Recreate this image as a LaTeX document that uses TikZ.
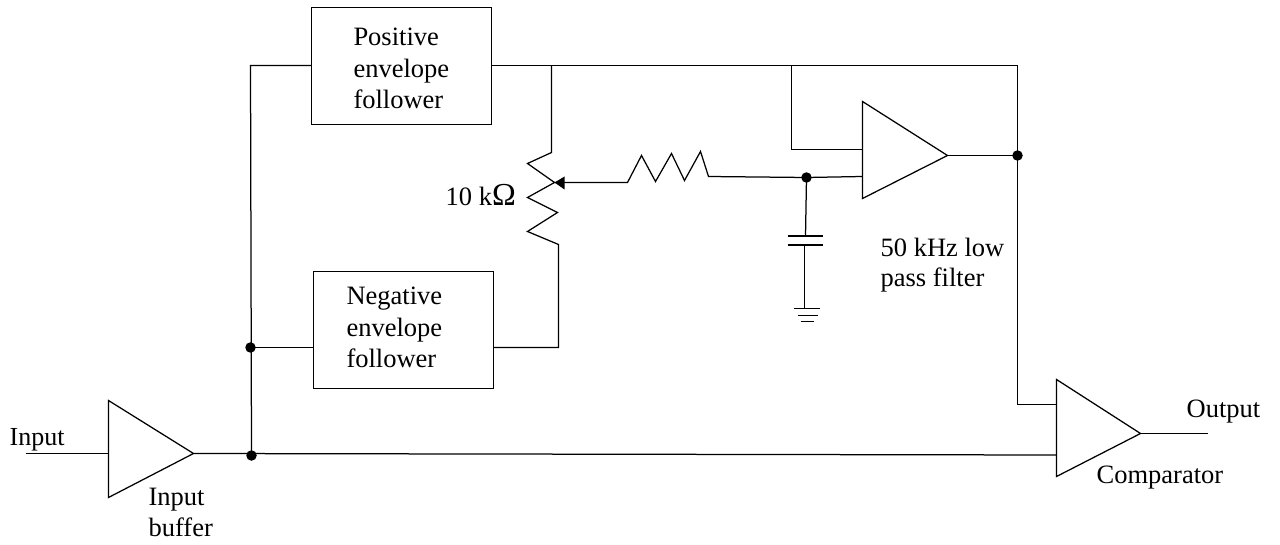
\documentclass[tikz,border=0pt]{standalone}
\usepackage{fontspec}
\setmainfont{Liberation Serif}
\begin{document}
\begin{tikzpicture}[x=1pt,y=-1pt,line width=1.25pt,line join=miter,
  blockbox/.style={draw,minimum width=180pt,minimum height=117pt,inner ysep=0pt,align=left,font=\fontsize{26.5}{30.5}\selectfont},
  lbl/.style={inner sep=0pt,align=left,anchor=base west,font=\fontsize{26.5}{30.5}\selectfont},
  junction/.style={circle,fill=black,inner sep=0pt,minimum size=10.5pt}]
\useasboundingbox (0,0) rectangle (1280,545);
\begin{scope}[shift={(0.5,0.5)}]
\node[blockbox,text width=96pt,inner xsep=42pt,text height=17pt,text depth=57pt] (pos) at (401,65.5) {Positive\\[1.5pt]envelope\\[0.5pt]follower};
\node[blockbox,text width=114pt,inner xsep=33pt,text height=17pt,text depth=68pt] (neg) at (403,329.5) {Negative\\[1.5pt]envelope\\[0.5pt]follower};
% amplifiers
\coordinate (ibA) at (108,400); \coordinate (ibB) at (193,453); \coordinate (ibC) at (108,497);
\coordinate (opA) at (862,101); \coordinate (opB) at (947,155); \coordinate (opC) at (862,198);
\coordinate (cmA) at (1056,379); \coordinate (cmB) at (1140,433); \coordinate (cmC) at (1056,476);
\draw (ibA) -- (ibB) -- (ibC) -- cycle;
\draw (opA) -- (opB) -- (opC) -- cycle;
\draw (cmA) -- (cmB) -- (cmC) -- cycle;
% junctions
\node[junction] (j1) at (250,347) {};
\node[junction] (j2) at (251,455) {};
\node[junction] (j3) at (1017,155) {};
\node[junction] (j4) at (806,177) {};
% end points
\coordinate (in) at (25,453);
\coordinate (ibin) at (108,453);
\coordinate (out) at (1207,433);
\coordinate (tr) at (1017,65);
\coordinate (tl) at (250,65);
\coordinate (wiper) at (554,182);
% wires
\draw (pos.west |- tl) -- (tl) -- (j2.center);
\draw (j1.center) -- (neg.west |- j1);
\draw (in) -- (ibin);
\draw (ibB) -- (1056,454.5);
\draw (cmB) -- (out);
\draw (pos.east |- tr) -- (tr) -- (1017,404) -- (1056,404);
\draw (791,65) -- (791,149) -- (862,149);
\draw (opB) -- (j3.center);
% potentiometer
\draw (551,65) -- (551,152) -- (527,163) -- (554,182) -- (527,197) -- (557,212) -- (527,231) -- (558,244) -- (558,347) -- (neg.east |- j1);
\draw (wiper) -- (627,182) -- (641,155) -- (655,181) -- (671,153) -- (684,180) -- (700,151) -- (708,176) -- (j4.center) -- (862,176);
\fill (wiper) -- (564,176) -- (564,189) -- cycle;
% capacitor and ground
\draw (j4.center) -- (805,236);
\draw[line width=2pt] (787,236) -- (822,236);
\draw[line width=2pt] (787,245) -- (822,245);
\draw (804,245) -- (804,308);
\draw (793,308) -- (819,308);
\draw (797,315) -- (817,315);
\draw (800,321) -- (813,321);
\end{scope}
% labels
\node[lbl,font=\fontsize{26}{30.5}\selectfont] (tIn) at (9,445) {Input};
\node[lbl] (tBuf) at (148,536) {Input\\buffer};
\node[lbl] (tOhm) at (445,206) {10 k{\fontsize{32}{32}\selectfont Ω}};
\node[lbl] (tLpf) at (880,287) {50 kHz low\\pass filter};
\node[lbl] (tOut) at (1186,417) {Output};
\node[lbl] (tCmp) at (1096,483) {Comparator};
\end{tikzpicture}
\end{document}
